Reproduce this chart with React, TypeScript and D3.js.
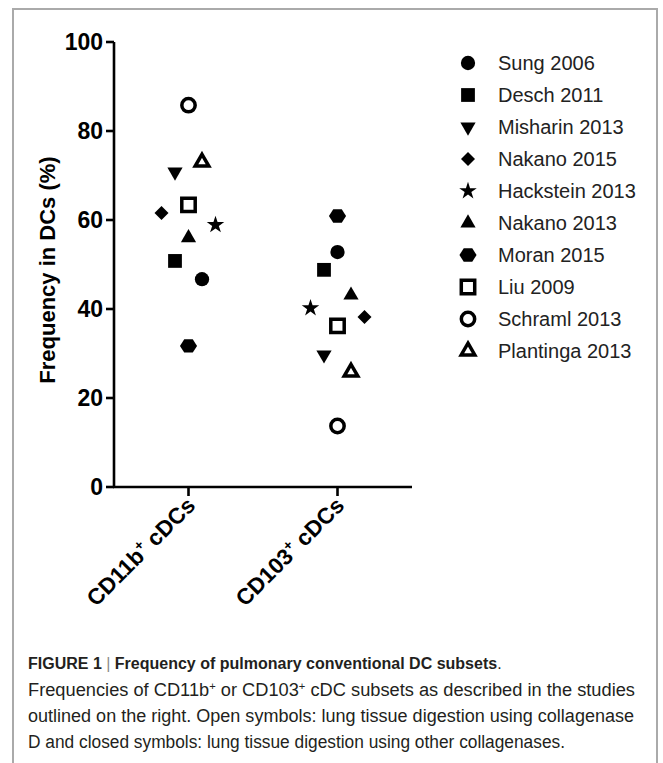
import React from 'react';
import { scaleLinear, scalePoint, symbol, symbolCircle, symbolSquare, symbolTriangle, symbolStar, symbolDiamond2 } from 'd3';

// studies, in legend order
const studies = ['Sung 2006', 'Desch 2011', 'Misharin 2013', 'Nakano 2015', 'Hackstein 2013', 'Nakano 2013', 'Moran 2015', 'Liu 2009', 'Schraml 2013', 'Plantinga 2013'];
const shapes = ['circle', 'square', 'triangleDown', 'diamond', 'star', 'triangle', 'hexagon', 'square', 'circle', 'triangle'];
const openSymbol = [false, false, false, false, false, false, false, true, true, true];

const categories = ['CD11b', 'CD103'];
// frequency (%) per study, same order as studies
const cd11bValues = [46.7, 50.8, 70.8, 61.6, 58.9, 56.0, 31.7, 63.4, 85.8, 73.0];
const cd103Values = [52.8, 48.8, 29.7, 38.2, 40.2, 43.1, 60.9, 36.2, 13.7, 25.8];
// horizontal scatter slot of each point (-2..2)
const cd11bJitter = [1, -1, -1, -2, 2, 0, 0, 0, 0, 1];
const cd103Jitter = [0, -1, -1, 2, -2, 1, 0, 0, 0, 1];

const yTicks = [0, 20, 40, 60, 80, 100];

const hexagon = {
  draw(ctx: any, size: number) {
    const r = Math.sqrt(size / 2.598);
    const h = r * 0.78;
    ctx.moveTo(-r, 0);
    ctx.lineTo(-r / 2, -h);
    ctx.lineTo(r / 2, -h);
    ctx.lineTo(r, 0);
    ctx.lineTo(r / 2, h);
    ctx.lineTo(-r / 2, h);
    ctx.closePath();
  },
};

const shapePath = (shape: string, open: boolean) => {
  switch (shape) {
    case 'circle': return symbol(symbolCircle, open ? 140 : 160)();
    case 'square': return symbol(symbolSquare, open ? 180 : 190)();
    case 'triangle':
    case 'triangleDown': return symbol(symbolTriangle, open ? 80 : 100)();
    case 'diamond': return symbol(symbolDiamond2, 125)();
    case 'star': return symbol(symbolStar, 95)();
    case 'hexagon': return symbol(hexagon, 190)();
  }
  return '';
};

const Marker = ({ i, x, y }: { i: number; x: number; y: number }) => {
  const open = openSymbol[i];
  const rot = shapes[i] === 'triangleDown' ? ' rotate(180)' : '';
  return (
    <path
      d={shapePath(shapes[i], open) as string}
      transform={`translate(${x},${y})${rot}`}
      fill={open ? '#fff' : '#000'}
      stroke={open ? '#000' : 'none'}
      strokeWidth={open ? 3.5 : 0}
    />
  );
};

const App = () => {
  const axisX = 114;
  const yScale = scaleLinear().domain([0, 100]).range([487, 42]);
  const xScale = scalePoint().domain(categories).range([axisX, 412]).padding(0.5);
  const step = 13.5;
  const series = [cd11bValues, cd103Values];
  const jitters = [cd11bJitter, cd103Jitter];
  const font = "'Liberation Sans', Arial, sans-serif";

  return (
    <div style={{ position: 'absolute', left: 0, top: 0 }}>
      <svg width={663} height={763} style={{ display: 'block', fontFamily: font }}>
        <rect x={0} y={0} width={663} height={763} fill="#fff" />
        <rect x={13} y={9} width={644} height={770} fill="none" stroke="#aaa" strokeWidth={2} />

        {/* y axis */}
        <line x1={axisX} x2={axisX} y1={yScale(100)} y2={yScale(0)} stroke="#000" strokeWidth={2.6} />
        {yTicks.map(t => (
          <g key={t} transform={`translate(0,${yScale(t)})`}>
            <line x1={axisX - 8} x2={axisX} stroke="#000" strokeWidth={2.6} />
            <text x={axisX - 11} dy="0.36em" textAnchor="end" fontWeight="bold" fontSize={23}>{t}</text>
          </g>
        ))}
        <text transform={`translate(55,270) rotate(-90)`} textAnchor="middle" fontWeight="bold" fontSize={22}>
          Frequency in DCs (%)
        </text>

        {/* x axis */}
        <line x1={axisX - 1} x2={412} y1={yScale(0)} y2={yScale(0)} stroke="#000" strokeWidth={2.6} />
        {categories.map(c => (
          <g key={c} transform={`translate(${xScale(c)},${yScale(0)})`}>
            <line y1={0} y2={9} stroke="#000" strokeWidth={2.6} />
            <text transform="translate(8,20) rotate(-45)" textAnchor="end" fontWeight="bold" fontSize={22.5}>
              {c}
              <tspan fontSize={14} dy={-9}>+</tspan>
              <tspan dy={9}> cDCs</tspan>
            </text>
          </g>
        ))}

        {/* points */}
        {series.map((vals, s) =>
          vals.map((v, i) => (
            <Marker key={`${s}-${i}`} i={i} x={(xScale(categories[s]) as number) + jitters[s][i] * step} y={yScale(v)} />
          ))
        )}

        {/* legend */}
        {studies.map((name, i) => (
          <g key={name} transform={`translate(468,${63 + i * 32})`}>
            <Marker i={i} x={0} y={0} />
            <text x={30} dy="0.36em" fontSize={20} fill="#222">{name}</text>
          </g>
        ))}

        {/* caption */}
        <g fill="#231f20" fontSize={18}>
          <text x={28} y={669} fontSize={16}>
            <tspan fontWeight="bold">FIGURE 1</tspan>
            <tspan fill="#888"> | </tspan>
            <tspan fontWeight="bold">Frequency of pulmonary conventional DC subsets</tspan>.
          </text>
          <text x={28} y={696} textLength={607} lengthAdjust="spacingAndGlyphs">
            Frequencies of CD11b<tspan fontSize={11} dy={-6}>+</tspan><tspan dy={6}> or CD103</tspan><tspan fontSize={11} dy={-6}>+</tspan><tspan dy={6}> cDC subsets as described in the studies</tspan>
          </text>
          <text x={28} y={722} textLength={606} lengthAdjust="spacingAndGlyphs">
            outlined on the right. Open symbols: lung tissue digestion using collagenase
          </text>
          <text x={28} y={748} textLength={537} lengthAdjust="spacingAndGlyphs">
            D and closed symbols: lung tissue digestion using other collagenases.
          </text>
        </g>
      </svg>
    </div>
  );
};

export default App;
